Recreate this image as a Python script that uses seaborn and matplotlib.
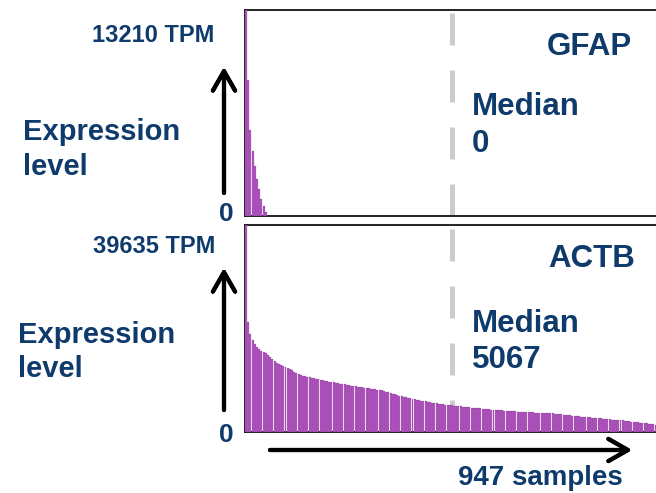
import numpy as np
import pandas as pd
import matplotlib
matplotlib.use("Agg")
import matplotlib.pyplot as plt
import seaborn as sns

# sorted expression (TPM), one value per block of 5 samples
n_samples = 947
gfap_tpm = [13210, 8700, 5500, 4200, 3200, 2400, 1700, 1100, 650, 250] + [0] * 180
actb_tpm = [
    39635, 21000, 18800, 17600, 16800, 16300, 15900, 15600, 15350, 15150,
    14800, 14400, 14000, 13650, 13300, 13050, 12830, 12600, 12400, 12200,
    12000, 11800, 11500, 11300, 11100, 10900, 10800, 10700, 10600, 10500,
    10400, 10300, 10200, 10100, 10000, 9900, 9800, 9700, 9620, 9560,
    9500, 9420, 9340, 9260, 9180, 9100, 9020, 8950, 8880, 8810,
    8740, 8670, 8600, 8540, 8480, 8420, 8360, 8300, 8230, 8160,
    8090, 8040, 7950, 7820, 7700, 7580, 7460, 7340, 7220, 7100,
    6980, 6880, 6780, 6680, 6580, 6480, 6390, 6300, 6210, 6120,
    6030, 5950, 5870, 5790, 5710, 5630, 5560, 5490, 5420, 5360,
    5300, 5240, 5180, 5120, 5080, 5060, 5020, 4970, 4920, 4870,
    4820, 4770, 4720, 4670, 4620, 4580, 4540, 4500, 4460, 4420,
    4380, 4340, 4300, 4260, 4220, 4190, 4160, 4130, 4100, 4070,
    4040, 4010, 3980, 3950, 3920, 3890, 3860, 3830, 3800, 3780,
    3760, 3740, 3720, 3700, 3690, 3680, 3670, 3660, 3645, 3630,
    3580, 3530, 3480, 3430, 3380, 3330, 3280, 3230, 3180, 3130,
    3080, 3030, 2990, 2950, 2910, 2870, 2830, 2790, 2750, 2710,
    2670, 2630, 2590, 2550, 2510, 2470, 2430, 2390, 2360, 2330,
    2300, 2260, 2210, 2160, 2110, 2060, 2010, 1960, 1910, 1860,
    1810, 1760, 1700, 1640, 1580, 1520, 1450, 1380, 1200, 800,
]
genes = ["GFAP", "ACTB"]
max_tpm = [13210, 39635]
median_tpm = [0, 5067]
sample_block = list(range(0, 950, 5))

sns.set_style("white")
plt.rcParams["font.family"] = ["Liberation Sans", "DejaVu Sans"]
plt.rcParams["font.weight"] = "bold"

W, H = 656, 493
fig = plt.figure(figsize=(W / 100, H / 100), dpi=100)
navy = "#0e3a6c"
purple = "#b654c6"


def fx(x):
    return x / W


def fy(y):
    return 1 - y / H


# panel boxes in pixels: left, top, right, bottom
panels = [(245, 10, 661, 216), (245, 225, 661, 432)]
series = [gfap_tpm, actb_tpm]

for (l, t, r, b), vals, gene, top, med in zip(panels, series, genes, max_tpm, median_tpm):
    ax = fig.add_axes([fx(l), fy(b), fx(r - l), (b - t) / H])
    df = pd.DataFrame({"sample": sample_block, "tpm": vals})
    sns.barplot(data=df, x="sample", y="tpm", ax=ax, color=purple, saturation=1,
                width=0.9, edgecolor="#4a3050", linewidth=0.12, zorder=3)
    ax.set_xlim(-0.5, len(sample_block) - 0.5)
    ax.set_ylim(0, top)
    # median sample position (in block units)
    ax.axvline((n_samples / 2) / 5 - 0.5, color="#cccccc", lw=3.6,
               dashes=(6.4, 5.0), zorder=1)
    ax.set_xticks([])
    ax.set_yticks([])
    ax.set_xlabel("")
    ax.set_ylabel("")
    for s in ax.spines.values():
        s.set_color("#111111")
        s.set_linewidth(1.3)

txt = dict(color=navy, fontweight="bold")

# top panel labels
fig.text(fx(214), fy(42), "13210 TPM", ha="right", va="baseline", fontsize=17, **txt)
fig.text(fx(23), fy(140), "Expression", ha="left", va="baseline", fontsize=21, **txt)
fig.text(fx(23), fy(175), "level", ha="left", va="baseline", fontsize=21, **txt)
fig.text(fx(226), fy(221), "0", ha="center", va="baseline", fontsize=19, **txt)
fig.text(fx(547), fy(55), "GFAP", ha="left", va="baseline", fontsize=22.5, **txt)
fig.text(fx(472), fy(115), "Median", ha="left", va="baseline", fontsize=22.5, **txt)
fig.text(fx(472), fy(152), "0", ha="left", va="baseline", fontsize=22.5, **txt)

# bottom panel labels
fig.text(fx(215), fy(253), "39635 TPM", ha="right", va="baseline", fontsize=17, **txt)
fig.text(fx(18), fy(343), "Expression", ha="left", va="baseline", fontsize=21, **txt)
fig.text(fx(18), fy(377), "level", ha="left", va="baseline", fontsize=21, **txt)
fig.text(fx(226), fy(442), "0", ha="center", va="baseline", fontsize=19, **txt)
fig.text(fx(548), fy(267), "ACTB", ha="left", va="baseline", fontsize=22.5, **txt)
fig.text(fx(472), fy(332), "Median", ha="left", va="baseline", fontsize=22.5, **txt)
fig.text(fx(472), fy(368), "5067", ha="left", va="baseline", fontsize=22.5, **txt)

fig.text(fx(458), fy(485), "947 samples", ha="left", va="baseline", fontsize=20, **txt)

arrow = dict(arrowstyle="->,head_length=0.7,head_width=0.4", lw=3, color="black",
             mutation_scale=20, shrinkA=0, shrinkB=0)
fig.add_artist(plt.annotate("", xy=(fx(224), fy(67)), xytext=(fx(224), fy(193)),
                            xycoords="figure fraction", arrowprops=arrow))
fig.add_artist(plt.annotate("", xy=(fx(224), fy(268)), xytext=(fx(224), fy(410)),
                            xycoords="figure fraction", arrowprops=arrow))
fig.add_artist(plt.annotate("", xy=(fx(632), fy(450)), xytext=(fx(270), fy(450)),
                            xycoords="figure fraction", arrowprops=arrow))

fig.savefig("out.png", dpi=100)
